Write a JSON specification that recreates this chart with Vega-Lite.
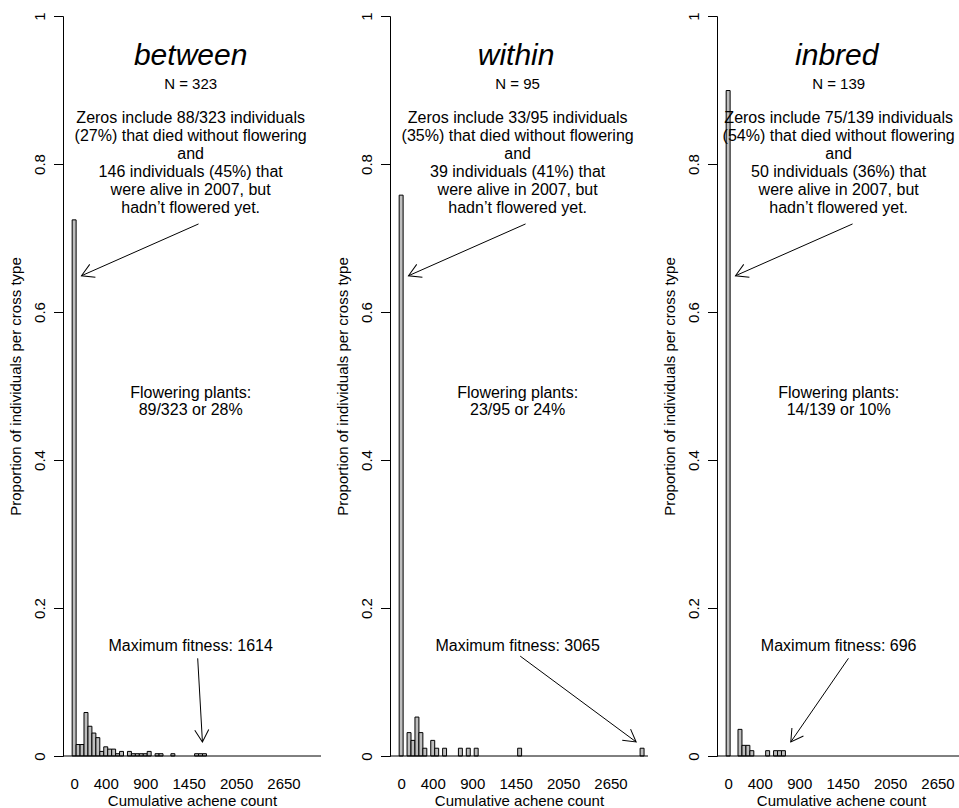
{
 "$schema": "https://vega.github.io/schema/vega-lite/v6.json",
 "background": "white",
 "padding": {"left": 8, "top": 11, "right": 0, "bottom": 0},
 "spacing": 13,
 "config": {
  "font": "Liberation Sans",
  "view": {"stroke": null},
  "axis": {"grid": false, "labelColor": "black", "titleColor": "black", "tickColor": "black", "domainColor": "black", "titleFontWeight": "normal", "labelFontSize": 15, "titleFontSize": 15, "labelFont": "Liberation Sans", "titleFont": "Liberation Sans"},
  "text": {"color": "black", "font": "Liberation Sans", "align": "center", "baseline": "middle", "lineBreak": "\n"}
 },
 "datasets": {
  "bars": [
   {"type": "between", "start": 0, "end": 50, "prop": 0.7245},
   {"type": "between", "start": 50, "end": 100, "prop": 0.0155},
   {"type": "between", "start": 100, "end": 150, "prop": 0.0155},
   {"type": "between", "start": 150, "end": 200, "prop": 0.0588},
   {"type": "between", "start": 200, "end": 250, "prop": 0.0402},
   {"type": "between", "start": 250, "end": 300, "prop": 0.031},
   {"type": "between", "start": 300, "end": 350, "prop": 0.0248},
   {"type": "between", "start": 350, "end": 400, "prop": 0.0062},
   {"type": "between", "start": 400, "end": 450, "prop": 0.0124},
   {"type": "between", "start": 450, "end": 500, "prop": 0.0093},
   {"type": "between", "start": 500, "end": 550, "prop": 0.0093},
   {"type": "between", "start": 550, "end": 600, "prop": 0.0031},
   {"type": "between", "start": 600, "end": 650, "prop": 0.0062},
   {"type": "between", "start": 700, "end": 750, "prop": 0.0062},
   {"type": "between", "start": 750, "end": 800, "prop": 0.0031},
   {"type": "between", "start": 800, "end": 850, "prop": 0.0031},
   {"type": "between", "start": 850, "end": 900, "prop": 0.0031},
   {"type": "between", "start": 900, "end": 950, "prop": 0.0031},
   {"type": "between", "start": 950, "end": 1000, "prop": 0.0062},
   {"type": "between", "start": 1050, "end": 1100, "prop": 0.0031},
   {"type": "between", "start": 1100, "end": 1150, "prop": 0.0031},
   {"type": "between", "start": 1250, "end": 1300, "prop": 0.0031},
   {"type": "between", "start": 1550, "end": 1600, "prop": 0.0031},
   {"type": "between", "start": 1600, "end": 1650, "prop": 0.0031},
   {"type": "between", "start": 1650, "end": 1700, "prop": 0.0031},
   {"type": "within", "start": 0, "end": 50, "prop": 0.7579},
   {"type": "within", "start": 100, "end": 150, "prop": 0.0316},
   {"type": "within", "start": 150, "end": 200, "prop": 0.0211},
   {"type": "within", "start": 200, "end": 250, "prop": 0.0526},
   {"type": "within", "start": 250, "end": 300, "prop": 0.0316},
   {"type": "within", "start": 300, "end": 350, "prop": 0.0105},
   {"type": "within", "start": 400, "end": 450, "prop": 0.0211},
   {"type": "within", "start": 450, "end": 500, "prop": 0.0105},
   {"type": "within", "start": 550, "end": 600, "prop": 0.0105},
   {"type": "within", "start": 750, "end": 800, "prop": 0.0105},
   {"type": "within", "start": 850, "end": 900, "prop": 0.0105},
   {"type": "within", "start": 950, "end": 1000, "prop": 0.0105},
   {"type": "within", "start": 1500, "end": 1550, "prop": 0.0105},
   {"type": "within", "start": 3050, "end": 3100, "prop": 0.0105},
   {"type": "inbred", "start": 0, "end": 50, "prop": 0.8993},
   {"type": "inbred", "start": 150, "end": 200, "prop": 0.036},
   {"type": "inbred", "start": 200, "end": 250, "prop": 0.0144},
   {"type": "inbred", "start": 250, "end": 300, "prop": 0.0144},
   {"type": "inbred", "start": 300, "end": 350, "prop": 0.0072},
   {"type": "inbred", "start": 500, "end": 550, "prop": 0.0072},
   {"type": "inbred", "start": 600, "end": 650, "prop": 0.0072},
   {"type": "inbred", "start": 650, "end": 700, "prop": 0.0072},
   {"type": "inbred", "start": 700, "end": 750, "prop": 0.0072}
  ],
  "panels": [
   {"type": "between", "title": "between", "n": "N = 323", "zeros": "Zeros include 88/323 individuals\n(27%) that died without flowering\nand\n146 individuals (45%) that\nwere alive in 2007, but\nhadn’t flowered yet.", "flower": "Flowering plants:\n89/323 or 28%", "maxfit": "Maximum fitness: 1614"},
   {"type": "within", "title": "within", "n": "N = 95", "zeros": "Zeros include 33/95 individuals\n(35%) that died without flowering\nand\n39 individuals (41%) that\nwere alive in 2007, but\nhadn’t flowered yet.", "flower": "Flowering plants:\n23/95 or 24%", "maxfit": "Maximum fitness: 3065"},
   {"type": "inbred", "title": "inbred", "n": "N = 139", "zeros": "Zeros include 75/139 individuals\n(54%) that died without flowering\nand\n50 individuals (36%) that\nwere alive in 2007, but\nhadn’t flowered yet.", "flower": "Flowering plants:\n14/139 or 10%", "maxfit": "Maximum fitness: 696"}
  ],
  "arrows": [
   {"type": "between", "x0": 1600, "y0": 0.719, "x1": 118, "y1": 0.649, "angle": 156},
   {"type": "between", "x0": 1589, "y0": 0.132, "x1": 1649, "y1": 0.019, "angle": 86.8},
   {"type": "within", "x0": 1600, "y0": 0.719, "x1": 118, "y1": 0.649, "angle": 156},
   {"type": "within", "x0": 1532, "y0": 0.135, "x1": 3000, "y1": 0.019, "angle": 36.5},
   {"type": "inbred", "x0": 1600, "y0": 0.719, "x1": 118, "y1": 0.649, "angle": 156},
   {"type": "inbred", "x0": 1548, "y0": 0.132, "x1": 818, "y1": 0.019, "angle": 124.6}
  ]
 },
 "hconcat": [
  {
   "width": 258, "height": 740,
   "layer": [
    {"data": {"name": "bars"}, "transform": [{"filter": "datum.type === 'between'"}],
     "mark": {"type": "rect", "fill": "#bebebe", "stroke": "black", "strokeWidth": 1},
     "encoding": {
      "x": {"field": "start", "type": "quantitative", "scale": {"domain": [-116, 3150], "nice": false, "zero": false}, "axis": {"values": [25, 425, 925, 1475, 2075, 2675], "labelExpr": "format(datum.value - 25, 'd')", "ticks": false, "domain": false, "labelPadding": 20, "title": "Cumulative achene count", "titlePadding": 2, "labelFlush": false, "labelOverlap": false}},
      "x2": {"field": "end"},
      "y": {"field": "prop", "type": "quantitative", "scale": {"domain": [0, 1], "nice": false}, "axis": {"values": [0, 0.2, 0.4, 0.6, 0.8, 1], "format": "~g", "labelAngle": -90, "labelAlign": "center", "labelBaseline": "alphabetic", "tickSize": 9.5, "labelPadding": 9, "title": "Proportion of individuals per cross type", "titlePadding": 9}},
      "y2": {"datum": 0}
     }},
    {"data": {"name": "panels"}, "transform": [{"filter": "datum.type === 'between'"}], "mark": {"type": "rule", "color": "black", "strokeWidth": 1}, "encoding": {"y": {"datum": 0, "type": "quantitative"}}},
    {"data": {"name": "panels"}, "transform": [{"filter": "datum.type === 'between'"}], "mark": {"type": "text", "fontSize": 30, "fontStyle": "italic"}, "encoding": {"x": {"datum": 1500, "type": "quantitative"}, "y": {"datum": 0.946, "type": "quantitative"}, "text": {"field": "title"}}},
    {"data": {"name": "panels"}, "transform": [{"filter": "datum.type === 'between'"}], "mark": {"type": "text", "fontSize": 15}, "encoding": {"x": {"datum": 1500, "type": "quantitative"}, "y": {"datum": 0.908, "type": "quantitative"}, "text": {"field": "n"}}},
    {"data": {"name": "panels"}, "transform": [{"filter": "datum.type === 'between'"}], "mark": {"type": "text", "fontSize": 16, "lineHeight": 18}, "encoding": {"x": {"datum": 1500, "type": "quantitative"}, "y": {"datum": 0.862, "type": "quantitative"}, "text": {"field": "zeros"}}},
    {"data": {"name": "panels"}, "transform": [{"filter": "datum.type === 'between'"}], "mark": {"type": "text", "fontSize": 16, "lineHeight": 17}, "encoding": {"x": {"datum": 1500, "type": "quantitative"}, "y": {"datum": 0.49, "type": "quantitative"}, "text": {"field": "flower"}}},
    {"data": {"name": "panels"}, "transform": [{"filter": "datum.type === 'between'"}], "mark": {"type": "text", "fontSize": 16}, "encoding": {"x": {"datum": 1500, "type": "quantitative"}, "y": {"datum": 0.149, "type": "quantitative"}, "text": {"field": "maxfit"}}},
    {"data": {"name": "arrows"}, "transform": [{"filter": "datum.type === 'between'"}], "mark": {"type": "rule", "color": "black", "strokeWidth": 1}, "encoding": {"x": {"field": "x0", "type": "quantitative"}, "y": {"field": "y0", "type": "quantitative"}, "x2": {"field": "x1"}, "y2": {"field": "y1"}}},
    {"data": {"name": "arrows"}, "transform": [{"filter": "datum.type === 'between'"}], "mark": {"type": "point", "shape": "M -1 -0.577 L 0 0 L -1 0.577", "filled": false, "stroke": "black", "strokeWidth": 1, "size": 588, "opacity": 1}, "encoding": {"x": {"field": "x1", "type": "quantitative"}, "y": {"field": "y1", "type": "quantitative"}, "angle": {"field": "angle", "type": "quantitative", "scale": null}}}
   ]
  },
  {
   "width": 258, "height": 740,
   "layer": [
    {"data": {"name": "bars"}, "transform": [{"filter": "datum.type === 'within'"}],
     "mark": {"type": "rect", "fill": "#bebebe", "stroke": "black", "strokeWidth": 1},
     "encoding": {
      "x": {"field": "start", "type": "quantitative", "scale": {"domain": [-116, 3150], "nice": false, "zero": false}, "axis": {"values": [25, 425, 925, 1475, 2075, 2675], "labelExpr": "format(datum.value - 25, 'd')", "ticks": false, "domain": false, "labelPadding": 20, "title": "Cumulative achene count", "titlePadding": 2, "labelFlush": false, "labelOverlap": false}},
      "x2": {"field": "end"},
      "y": {"field": "prop", "type": "quantitative", "scale": {"domain": [0, 1], "nice": false}, "axis": {"values": [0, 0.2, 0.4, 0.6, 0.8, 1], "format": "~g", "labelAngle": -90, "labelAlign": "center", "labelBaseline": "alphabetic", "tickSize": 9.5, "labelPadding": 9, "title": "Proportion of individuals per cross type", "titlePadding": 9}},
      "y2": {"datum": 0}
     }},
    {"data": {"name": "panels"}, "transform": [{"filter": "datum.type === 'within'"}], "mark": {"type": "rule", "color": "black", "strokeWidth": 1}, "encoding": {"y": {"datum": 0, "type": "quantitative"}}},
    {"data": {"name": "panels"}, "transform": [{"filter": "datum.type === 'within'"}], "mark": {"type": "text", "fontSize": 30, "fontStyle": "italic"}, "encoding": {"x": {"datum": 1480, "type": "quantitative"}, "y": {"datum": 0.946, "type": "quantitative"}, "text": {"field": "title"}}},
    {"data": {"name": "panels"}, "transform": [{"filter": "datum.type === 'within'"}], "mark": {"type": "text", "fontSize": 15}, "encoding": {"x": {"datum": 1500, "type": "quantitative"}, "y": {"datum": 0.908, "type": "quantitative"}, "text": {"field": "n"}}},
    {"data": {"name": "panels"}, "transform": [{"filter": "datum.type === 'within'"}], "mark": {"type": "text", "fontSize": 16, "lineHeight": 18}, "encoding": {"x": {"datum": 1500, "type": "quantitative"}, "y": {"datum": 0.862, "type": "quantitative"}, "text": {"field": "zeros"}}},
    {"data": {"name": "panels"}, "transform": [{"filter": "datum.type === 'within'"}], "mark": {"type": "text", "fontSize": 16, "lineHeight": 17}, "encoding": {"x": {"datum": 1500, "type": "quantitative"}, "y": {"datum": 0.49, "type": "quantitative"}, "text": {"field": "flower"}}},
    {"data": {"name": "panels"}, "transform": [{"filter": "datum.type === 'within'"}], "mark": {"type": "text", "fontSize": 16}, "encoding": {"x": {"datum": 1500, "type": "quantitative"}, "y": {"datum": 0.149, "type": "quantitative"}, "text": {"field": "maxfit"}}},
    {"data": {"name": "arrows"}, "transform": [{"filter": "datum.type === 'within'"}], "mark": {"type": "rule", "color": "black", "strokeWidth": 1}, "encoding": {"x": {"field": "x0", "type": "quantitative"}, "y": {"field": "y0", "type": "quantitative"}, "x2": {"field": "x1"}, "y2": {"field": "y1"}}},
    {"data": {"name": "arrows"}, "transform": [{"filter": "datum.type === 'within'"}], "mark": {"type": "point", "shape": "M -1 -0.577 L 0 0 L -1 0.577", "filled": false, "stroke": "black", "strokeWidth": 1, "size": 588, "opacity": 1}, "encoding": {"x": {"field": "x1", "type": "quantitative"}, "y": {"field": "y1", "type": "quantitative"}, "angle": {"field": "angle", "type": "quantitative", "scale": null}}}
   ]
  },
  {
   "width": 248, "height": 740,
   "layer": [
    {"data": {"name": "bars"}, "transform": [{"filter": "datum.type === 'inbred'"}],
     "mark": {"type": "rect", "fill": "#bebebe", "stroke": "black", "strokeWidth": 1},
     "encoding": {
      "x": {"field": "start", "type": "quantitative", "scale": {"domain": [-116, 3023], "nice": false, "zero": false}, "axis": {"values": [25, 425, 925, 1475, 2075, 2675], "labelExpr": "format(datum.value - 25, 'd')", "ticks": false, "domain": false, "labelPadding": 20, "title": "Cumulative achene count", "titlePadding": 2, "labelFlush": false, "labelOverlap": false}},
      "x2": {"field": "end"},
      "y": {"field": "prop", "type": "quantitative", "scale": {"domain": [0, 1], "nice": false}, "axis": {"values": [0, 0.2, 0.4, 0.6, 0.8, 1], "format": "~g", "labelAngle": -90, "labelAlign": "center", "labelBaseline": "alphabetic", "tickSize": 9.5, "labelPadding": 9, "title": "Proportion of individuals per cross type", "titlePadding": 9}},
      "y2": {"datum": 0}
     }},
    {"data": {"name": "panels"}, "transform": [{"filter": "datum.type === 'inbred'"}], "mark": {"type": "rule", "color": "black", "strokeWidth": 1}, "encoding": {"y": {"datum": 0, "type": "quantitative"}}},
    {"data": {"name": "panels"}, "transform": [{"filter": "datum.type === 'inbred'"}], "mark": {"type": "text", "fontSize": 30, "fontStyle": "italic"}, "encoding": {"x": {"datum": 1400, "type": "quantitative"}, "y": {"datum": 0.946, "type": "quantitative"}, "text": {"field": "title"}}},
    {"data": {"name": "panels"}, "transform": [{"filter": "datum.type === 'inbred'"}], "mark": {"type": "text", "fontSize": 15}, "encoding": {"x": {"datum": 1424, "type": "quantitative"}, "y": {"datum": 0.908, "type": "quantitative"}, "text": {"field": "n"}}},
    {"data": {"name": "panels"}, "transform": [{"filter": "datum.type === 'inbred'"}], "mark": {"type": "text", "fontSize": 16, "lineHeight": 18}, "encoding": {"x": {"datum": 1424, "type": "quantitative"}, "y": {"datum": 0.862, "type": "quantitative"}, "text": {"field": "zeros"}}},
    {"data": {"name": "panels"}, "transform": [{"filter": "datum.type === 'inbred'"}], "mark": {"type": "text", "fontSize": 16, "lineHeight": 17}, "encoding": {"x": {"datum": 1424, "type": "quantitative"}, "y": {"datum": 0.49, "type": "quantitative"}, "text": {"field": "flower"}}},
    {"data": {"name": "panels"}, "transform": [{"filter": "datum.type === 'inbred'"}], "mark": {"type": "text", "fontSize": 16}, "encoding": {"x": {"datum": 1424, "type": "quantitative"}, "y": {"datum": 0.149, "type": "quantitative"}, "text": {"field": "maxfit"}}},
    {"data": {"name": "arrows"}, "transform": [{"filter": "datum.type === 'inbred'"}], "mark": {"type": "rule", "color": "black", "strokeWidth": 1}, "encoding": {"x": {"field": "x0", "type": "quantitative"}, "y": {"field": "y0", "type": "quantitative"}, "x2": {"field": "x1"}, "y2": {"field": "y1"}}},
    {"data": {"name": "arrows"}, "transform": [{"filter": "datum.type === 'inbred'"}], "mark": {"type": "point", "shape": "M -1 -0.577 L 0 0 L -1 0.577", "filled": false, "stroke": "black", "strokeWidth": 1, "size": 588, "opacity": 1}, "encoding": {"x": {"field": "x1", "type": "quantitative"}, "y": {"field": "y1", "type": "quantitative"}, "angle": {"field": "angle", "type": "quantitative", "scale": null}}}
   ]
  }
 ]
}
